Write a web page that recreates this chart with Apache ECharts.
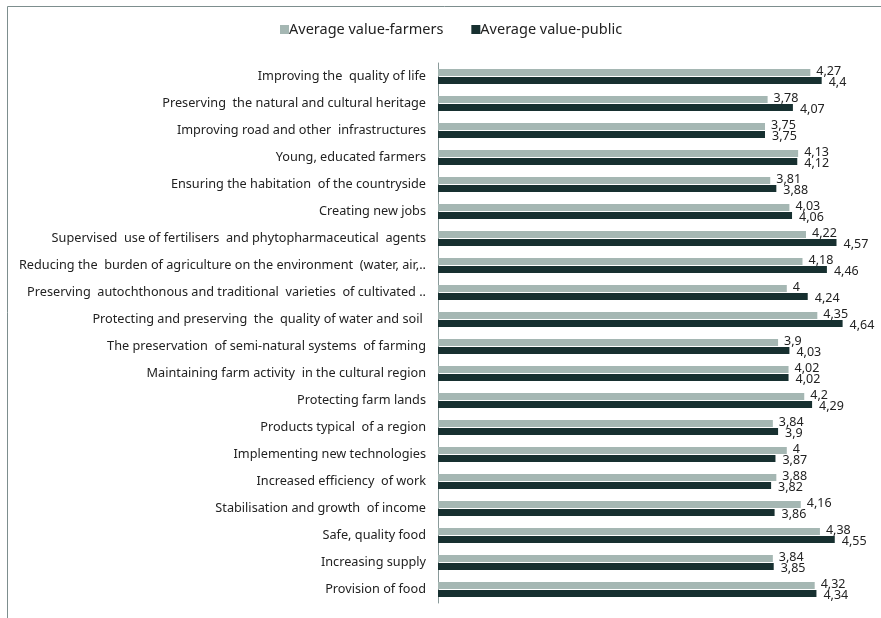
<!DOCTYPE html>
<html>
<head>
<meta charset="utf-8">
<script src="https://cdn.jsdelivr.net/npm/echarts@6/dist/echarts.min.js"></script>
<style>
  html, body { margin: 0; padding: 0; background: #fff; }
  #echart { width: 881px; height: 618px; }
</style>
</head>
<body>
<div id="echart"></div>
<script>
// categories, top to bottom
const categories = [
  "Improving the  quality of life",
  "Preserving  the natural and cultural heritage",
  "Improving road and other  infrastructures",
  "Young, educated farmers",
  "Ensuring the habitation  of the countryside",
  "Creating new jobs",
  "Supervised  use of fertilisers  and phytopharmaceutical  agents",
  "Reducing the  burden of agriculture on the environment  (water, air,..",
  "Preserving  autochthonous and traditional  varieties  of cultivated ..",
  "Protecting and preserving  the  quality of water and soil ",
  "The preservation  of semi-natural systems  of farming",
  "Maintaining farm activity  in the cultural region",
  "Protecting farm lands",
  "Products typical  of a region",
  "Implementing new technologies",
  "Increased efficiency  of work",
  "Stabilisation and growth  of income",
  "Safe, quality food",
  "Increasing supply",
  "Provision of food"
];
const farmers = [4.27, 3.78, 3.75, 4.13, 3.81, 4.03, 4.22, 4.18, 4, 4.35, 3.9, 4.02, 4.2, 3.84, 4, 3.88, 4.16, 4.38, 3.84, 4.32];
const publicValues = [4.4, 4.07, 3.75, 4.12, 3.88, 4.06, 4.57, 4.46, 4.24, 4.64, 4.03, 4.02, 4.29, 3.9, 3.87, 3.82, 3.86, 4.55, 3.85, 4.34];

const fontFamily = "'Noto Sans', sans-serif";
const commaFormat = p => String(p.value).replace('.', ',');

const chart = echarts.init(document.getElementById('echart'));
chart.setOption({
  animation: false,
  textStyle: { fontFamily },
  graphic: [{
    type: 'rect',
    shape: { x: 7.5, y: 6.5, width: 900, height: 700 },
    style: { fill: 'none', stroke: '#7d8e8e', lineWidth: 1 },
    silent: true
  }],
  legend: {
    top: 17,
    left: 275,
    itemWidth: 9,
    itemHeight: 9,
    itemGap: 28,
    icon: 'rect',
    textStyle: { fontSize: 14.5, color: '#222', padding: [0, 0, 0, -5] },
    data: ['Average value-farmers', 'Average value-public']
  },
  grid: { left: 438, right: 7, top: 63, bottom: 15, containLabel: false },
  xAxis: {
    type: 'value',
    min: 0,
    max: 5,
    show: false
  },
  yAxis: {
    type: 'category',
    inverse: true,
    data: categories,
    axisLine: { show: true, lineStyle: { color: '#8a9a9a', width: 1 } },
    axisTick: { show: false },
    axisLabel: { fontSize: 12.7, color: '#222', margin: 12 }
  },
  series: [
    {
      name: 'Average value-farmers',
      type: 'bar',
      data: farmers,
      barWidth: 7,
      barGap: '15%',
      itemStyle: { color: '#a5b7b3' },
      label: {
        show: true, position: 'right', distance: 6, offset: [0, -1],
        fontSize: 12.5, color: '#222', formatter: commaFormat
      }
    },
    {
      name: 'Average value-public',
      type: 'bar',
      data: publicValues,
      barWidth: 7,
      itemStyle: { color: '#173030' },
      label: {
        show: true, position: 'right', distance: 7, offset: [0, 2],
        fontSize: 12.5, color: '#222', formatter: commaFormat
      }
    }
  ]
});
</script>
</body>
</html>
